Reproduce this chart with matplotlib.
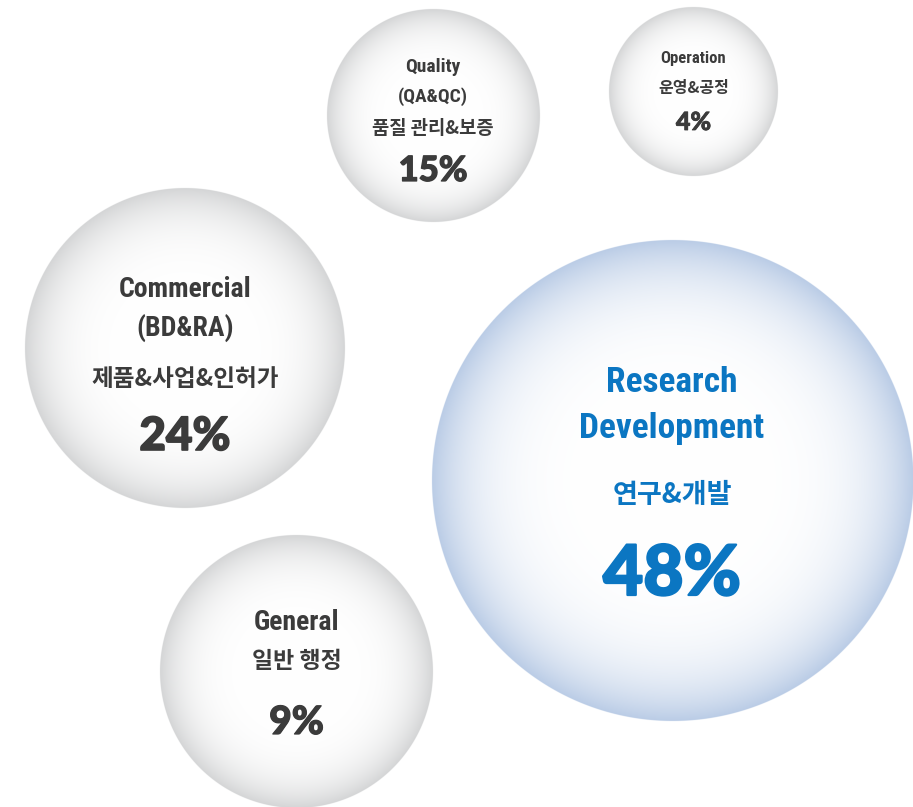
import numpy as np
import matplotlib
matplotlib.use("Agg")
import matplotlib.pyplot as plt
from matplotlib import font_manager
from matplotlib import patheffects
from matplotlib.colors import to_rgb

# ---- data -------------------------------------------------------------
departments = ["Research\nDevelopment", "Commercial\n(BD&RA)", "Quality\n(QA&QC)",
               "General", "Operation"]
korean_names = ["연구&개발", "제품&사업&인허가", "품질 관리&보증", "일반 행정", "운영&공정"]
shares = [48, 24, 15, 9, 4]

# ---- layout (pixel coordinates, origin top-left) ---------------------
W, H = 913, 807
centers_x = [672, 185, 433, 296.5, 693.5]
centers_y = [481, 348, 116, 671.5, 91.5]
radii = [240.5, 160, 106.5, 136.5, 84.5]
edge_colors = ["#bacce6", "#d4d5d6", "#d4d5d6", "#d4d5d6", "#d4d5d6"]
text_colors = ["#0b76c2", "#3b3b3b", "#3b3b3b", "#3b3b3b", "#3b3b3b"]

# baselines for: english lines..., korean line, percentage
baselines = [
    [392, 438, 503, 595],
    [297, 336, 386, 450],
    [72, 101.5, 134, 181],
    [630, 668.5, 734],
    [63, 93, 130],
]
# font sizes (pt): english, korean, percentage
sizes = [
    (25.5, 19.5, 50),
    (20, 17, 33),
    (14, 13.5, 25),
    (20, 16.5, 28),
    (12, 11.5, 18),
]
# extra stroke width used to make the percentages extra heavy
pct_stroke = [1.6, 1.2, 0.9, 0.9, 0.6]

available = {f.name for f in font_manager.fontManager.ttflist}


def first_available(names, default="DejaVu Sans"):
    for n in names:
        if n in available:
            return n
    return default


latin_family = first_available(["Roboto Condensed", "Liberation Sans Narrow",
                                "Open Sans Condensed", "DejaVu Sans"])
LATIN = dict(family=[latin_family, "Noto Sans CJK KR"], fontweight="bold",
             fontstretch="condensed")
HANGUL = dict(family=["Noto Sans CJK KR", "DejaVu Sans"], fontweight="bold")
pct_family = first_available(["Lato Black", "Lato", "DejaVu Sans"])
NUMBER = dict(family=[pct_family, "DejaVu Sans"], fontweight="black")


def draw_bubble(ax, cx, cy, r, edge, ss=3):
    """Radial white-to-edge shaded disc with an antialiased rim."""
    x0, y0 = cx - r - 2, cy - r - 2
    n = int(np.ceil((2 * r + 4) * ss))
    coords = (np.arange(n) + 0.5) / ss
    X, Y = np.meshgrid(x0 + coords, y0 + coords)
    d = np.hypot(X - cx, Y - cy)
    t = np.clip(d / r, 0, 1)
    f = t ** 5
    white = np.array([1.0, 1.0, 1.0])
    e = np.array(to_rgb(edge))
    rgb = white[None, None, :] * (1 - f[..., None]) + e[None, None, :] * f[..., None]
    alpha = np.clip((r - d) * ss + 0.5, 0, 1)
    img = np.dstack([rgb, alpha])
    ax.imshow(img, extent=(x0, x0 + n / ss, y0 + n / ss, y0), origin="upper",
              interpolation="antialiased", zorder=1)


fig = plt.figure(figsize=(W / 100, H / 100), dpi=100)
ax = fig.add_axes([0, 0, 1, 1])
ax.set_xlim(0, W)
ax.set_ylim(H, 0)
ax.set_aspect("auto")
ax.axis("off")

for i, dept in enumerate(departments):
    cx, cy, r = centers_x[i], centers_y[i], radii[i]
    draw_bubble(ax, cx, cy, r, edge_colors[i])
    en_lines = dept.split("\n")
    s_en, s_ko, s_pct = sizes[i]
    bl = baselines[i]
    col = text_colors[i]
    for j, line in enumerate(en_lines):
        ax.text(cx, bl[j], line, ha="center", va="baseline", fontsize=s_en,
                color=col, zorder=3, **LATIN)
    k = len(en_lines)
    ax.text(cx, bl[k], korean_names[i], ha="center", va="baseline",
            fontsize=s_ko, color=col, zorder=3, **HANGUL)
    ax.text(cx, bl[k + 1], f"{shares[i]}%", ha="center", va="baseline",
            fontsize=s_pct, color=col, zorder=3,
            path_effects=[patheffects.withStroke(linewidth=pct_stroke[i],
                                                 foreground=col)],
            **NUMBER)

fig.savefig("out.png", dpi=100, facecolor="white")
